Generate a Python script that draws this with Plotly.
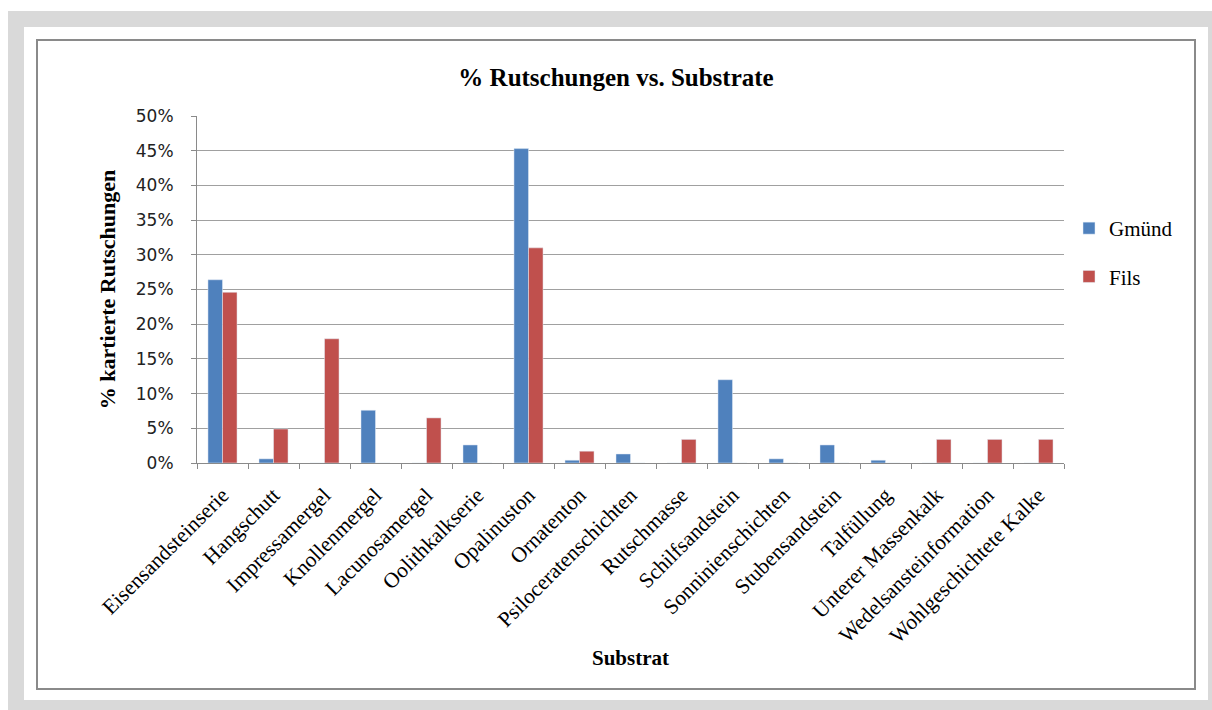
import plotly.graph_objects as go

# Share of mapped landslides per substrate, two study areas (values in %)
substrate = [
    "Eisensandsteinserie", "Hangschutt", "Impressamergel", "Knollenmergel",
    "Lacunosamergel", "Oolithkalkserie", "Opalinuston", "Ornatenton",
    "Psiloceratenschichten", "Rutschmasse", "Schilfsandstein",
    "Sonninienschichten", "Stubensandstein", "Talfüllung",
    "Unterer Massenkalk", "Wedelsansteinformation", "Wohlgeschichtete Kalke",
]
gmuend = [26.4, 0.6, 0.0, 7.6, 0.0, 2.6, 45.3, 0.4, 1.3, 0.0, 12.0, 0.6, 2.6, 0.4, 0.0, 0.0, 0.0]
fils = [24.6, 4.9, 17.9, 0.0, 6.5, 0.0, 31.0, 1.7, 0.0, 3.4, 0.0, 0.0, 0.0, 0.0, 3.4, 3.4, 3.4]
y_ticks = list(range(0, 51, 5))
y_tick_labels = [f"{v}%" for v in y_ticks]

W, H = 1212, 710
L, R, T, B = 197, 1064, 116, 463  # plot area in pixels

def px(x):
    return (x - L) / (R - L)

def py(y):
    return (B - y) / (B - T)

serif = "Liberation Serif"

fig = go.Figure()
fig.add_trace(go.Bar(name="Gmünd", x=substrate, y=gmuend, marker_color="#4F81BD",
                     legendgroup="g"))
fig.add_trace(go.Bar(name="Fils", x=substrate, y=fils, marker_color="#C0504D",
                     legendgroup="f"))

shapes = [
    # grey frame band
    dict(type="rect", xref="paper", yref="paper", x0=px(8), x1=px(1230), y0=py(11), y1=py(730),
         fillcolor="#d9d9d9", line_width=0, layer="below"),
    # white card
    dict(type="rect", xref="paper", yref="paper", x0=px(24), x1=px(1208), y0=py(27), y1=py(700),
         fillcolor="white", line_width=0, layer="below"),
    # chart border
    dict(type="rect", xref="paper", yref="paper", x0=px(37), x1=px(1195), y0=py(40), y1=py(689),
         line=dict(color="#8a8a8a", width=2), fillcolor="rgba(0,0,0,0)", layer="below"),
]

fig.update_layout(
    width=W, height=H,
    margin=dict(l=L, r=W - R, t=T, b=H - B, autoexpand=False),
    paper_bgcolor="white",
    plot_bgcolor="rgba(0,0,0,0)",
    barmode="group",
    bargap=0.43,
    bargroupgap=0.0,
    shapes=shapes,
    title=dict(text="<b>% Rutschungen vs. Substrate</b>", x=616 / W, xanchor="center",
               y=1 - 77 / H, yanchor="middle",
               font=dict(family=serif, size=25, color="black")),
    legend=dict(x=px(1069), xanchor="left", y=py(208), yanchor="top",
                font=dict(family=serif, size=21, color="black"),
                tracegroupgap=18, bgcolor="rgba(0,0,0,0)"),
    showlegend=True,
)

fig.update_xaxes(
    type="category",
    showline=True, linecolor="#8a8a8a", linewidth=1,
    ticks="outside", tickson="boundaries", ticklen=5, tickcolor="#8a8a8a",
    tickangle=-45,
    tickfont=dict(family=serif, size=21.5, color="black"),
    ticklabelstandoff=10,
    showgrid=False,
    title=dict(text="<b>Substrat</b>", font=dict(family=serif, size=21, color="black"),
               standoff=3),
    automargin=False,
)
fig.update_yaxes(
    range=[0, 50], tickvals=y_ticks, ticktext=y_tick_labels,
    showline=True, linecolor="#8a8a8a", linewidth=1,
    ticks="outside", ticklen=5, tickcolor="#8a8a8a",
    showgrid=True, gridcolor="#a0a0a0", gridwidth=1.2,
    zeroline=False,
    tickfont=dict(family="DejaVu Sans", size=17, color="#222222"),
    ticklabelstandoff=14,
    title=dict(text="<b>% kartierte Rutschungen</b>",
               font=dict(family=serif, size=22, color="black"), standoff=14),
    automargin=False,
)

fig.write_html("out.html")
